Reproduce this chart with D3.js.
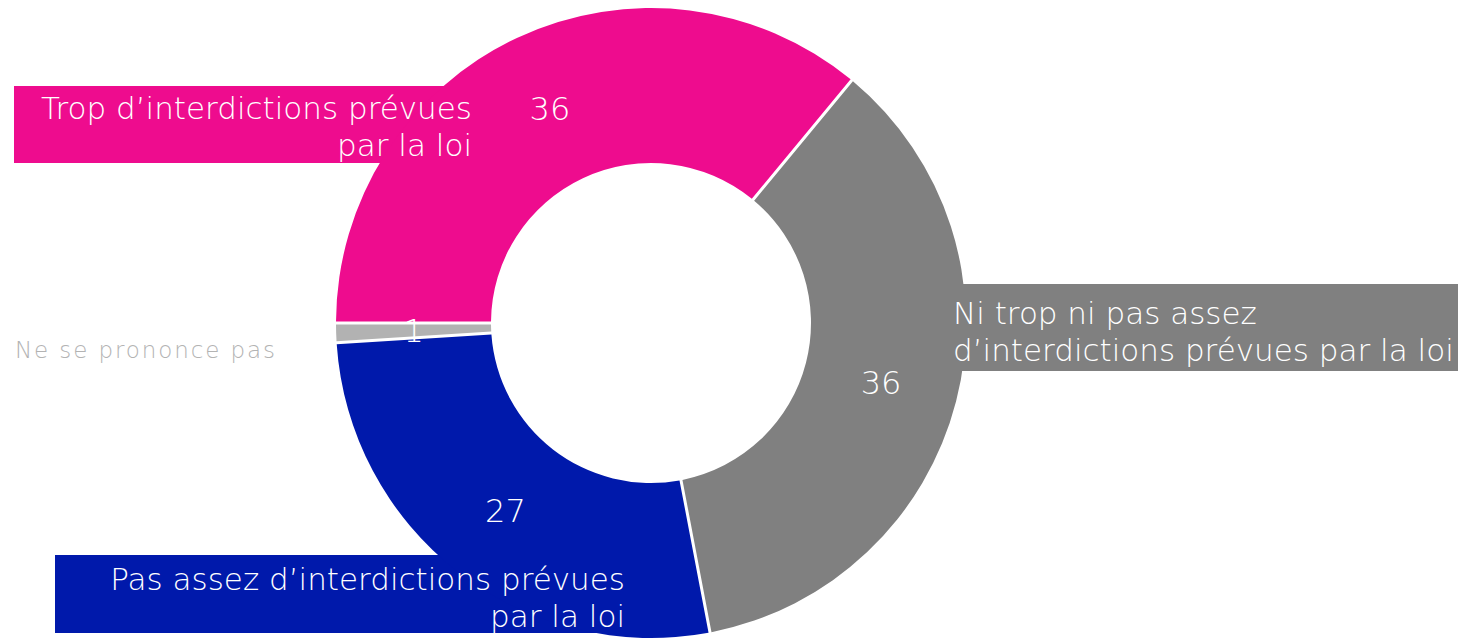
<!DOCTYPE html>
<html>
<head>
<meta charset="utf-8">
<script src="https://cdn.jsdelivr.net/npm/d3@7"></script>
<style>
  body { margin: 0; background: #fff; }
  svg text { font-family: "DejaVu Sans", "Lato", sans-serif; font-weight: 200; }
</style>
</head>
<body>
<div id="chart"></div>
<script>
// donnees
var categories = ["Trop", "Ni trop ni pas assez", "Pas assez", "NSP"];
var values = [36, 36, 27, 1];
var colors = ["#ee0c8e", "#808080", "#0019ab", "#b2b2b2"];
var labelLines = [
    ["Trop d’interdictions prévues", "par la loi"],
    ["Ni trop ni pas assez", "d’interdictions prévues par la loi"],
    ["Pas assez d’interdictions prévues", "par la loi"],
    ["Ne se prononce pas"]
];

var width = 1458, height = 639;
var cx = 651, cy = 323;
var outerR = 315, innerR = 160;

var svg = d3.select("#chart")
    .append("svg")
    .attr("width", width)
    .attr("height", height);

// boites des etiquettes (derriere l'anneau)
var boxes = [
    {x: 14, y: 86, w: 470, h: 77, anchor: "end", tx: 472, ty: 119},
    {x: 945, y: 284, w: 513, h: 87, anchor: "start", tx: 953, ty: 324},
    {x: 55, y: 555, w: 590, h: 78, anchor: "end", tx: 625, ty: 590},
    {x: null, anchor: "start", tx: 15, ty: 358}
];

svg.selectAll("rect.box")
    .data(boxes.slice(0, 3))
    .enter()
    .append("rect")
    .attr("class", "box")
    .attr("x", function(d){ return d.x; })
    .attr("y", function(d){ return d.y; })
    .attr("width", function(d){ return d.w; })
    .attr("height", function(d){ return d.h; })
    .style("fill", function(d, i){ return colors[i]; });

var pie = d3.pie()
    .sort(null)
    .startAngle(-Math.PI / 2)
    .endAngle(3 * Math.PI / 2);

// espace blanc entre les parts (pas de contour exterieur)
var arc = d3.arc()
    .innerRadius(innerR)
    .outerRadius(outerR)
    .padRadius(outerR)
    .padAngle(3 / outerR);

var g = svg.append("g")
    .attr("transform", "translate(" + cx + "," + cy + ")");

var arcs = pie(values);

g.selectAll("path")
    .data(arcs)
    .enter()
    .append("path")
    .attr("d", arc)
    .style("fill", function(d, i){ return colors[i]; });

// valeurs
g.selectAll("text.val")
    .data(arcs)
    .enter()
    .append("text")
    .attr("class", "val")
    .attr("transform", function(d){ return "translate(" + arc.centroid(d) + ")"; })
    .attr("dy", "0.36em")
    .style("text-anchor", "middle")
    .style("font-size", "32px")
    .style("fill", "#fff")
    .text(function(d){ return d.data; });

// etiquettes
boxes.forEach(function(b, i){
    var t = svg.append("text")
        .attr("x", b.tx)
        .attr("y", b.ty)
        .style("text-anchor", b.anchor)
        .style("font-size", i === 3 ? "23px" : "31px")
        .style("letter-spacing", i === 3 ? "1.9px" : "0px")
        .style("fill", i === 3 ? "#b3b3b3" : "#fff");
    t.selectAll("tspan")
        .data(labelLines[i])
        .enter()
        .append("tspan")
        .attr("x", b.tx)
        .attr("dy", function(d, j){ return j === 0 ? 0 : 37; })
        .text(function(d){ return d; });
});
</script>
</body>
</html>
